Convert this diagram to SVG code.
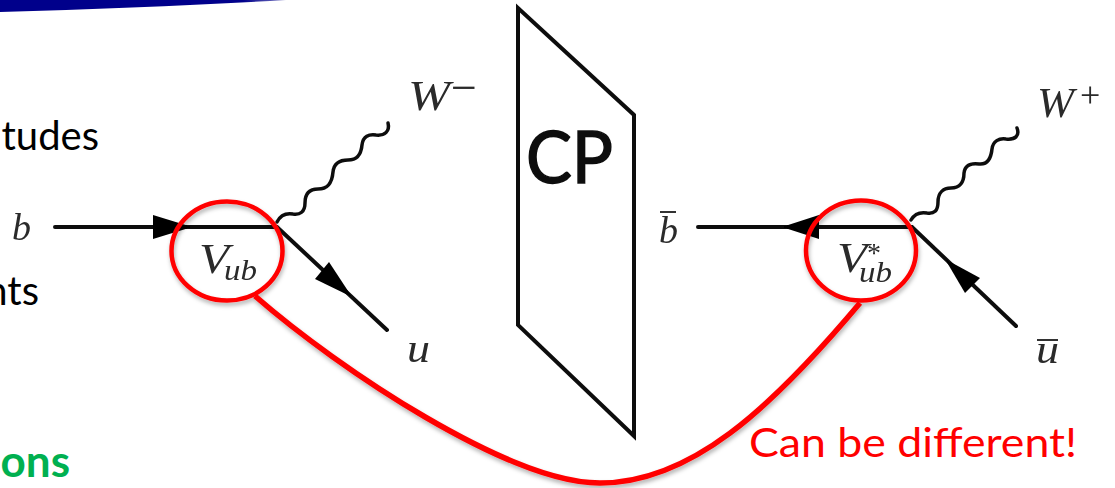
<svg xmlns="http://www.w3.org/2000/svg" width="1115" height="488" viewBox="0 0 1115 488">
<style>
.ln{fill:none;stroke:#111;stroke-width:4;stroke-linecap:round}
.wv{fill:none;stroke:#111;stroke-width:3.500;stroke-linecap:round}
.ah{fill:#000}
.ov{stroke:#333;stroke-width:2}
.m{font-family:"Liberation Serif",serif;font-style:italic;fill:#2a2a2a}
.s{font-family:"Liberation Serif",serif;fill:#2a2a2a}
.b{font-family:Lato,"Open Sans",sans-serif}
.ring{fill:none;stroke:#f00;stroke-width:4.500}
</style>
<defs>
<linearGradient id="bar" x1="0" x2="1" y1="0" y2="0"><stop offset="0" stop-color="#00008b"/><stop offset="0.85" stop-color="#00008b"/><stop offset="1" stop-color="#8080c5"/></linearGradient>
<filter id="sh" x="-10%" y="-10%" width="120%" height="125%"><feDropShadow dx="1" dy="3" stdDeviation="2" flood-color="#000" flood-opacity="0.3"/></filter>
<filter id="soft" x="-5%" y="-5%" width="110%" height="110%"><feGaussianBlur stdDeviation="0.600"/></filter>
</defs>
<rect width="1115" height="488" fill="#fff"/>
<path id="banner" d="M0 0H286C200 5 100 9 0 12Z" fill="url(#bar)"/>
<g id="body-text" class="b" font-size="40">
<text x="99" y="150" text-anchor="end" fill="#000">tudes</text>
<text x="39" y="305" text-anchor="end" fill="#000">nts</text>
<text x="70" y="477" text-anchor="end" fill="#00b050" font-weight="700" font-size="44">ons</text>
</g>
<g id="cp-plane" filter="url(#soft)">
<path d="M518 8V325L634 436V115Z" fill="none" stroke="#111" stroke-width="4"/>
<text x="526" y="183" class="b" font-size="71" fill="#111" stroke="#111" stroke-width="1.500" textLength="87" lengthAdjust="spacingAndGlyphs">CP</text>
</g>
<g id="connectors" filter="url(#soft)">
<path class="ln" d="M55 227H277L387 330"/>
<path class="ah" d="M153 215L192 227L153 239Z"/>
<path class="ah" d="M329 262L352 297L315 279Z"/>
<path class="wv" d="M277 222C281 214 287 213 293 214C300 215 305 212 305 203C305 193 310 189 318 189C328 189 332 183 333 172C334 163 340 160 348 160C357 160 361 155 362 145C363 136 369 134 376 135C385 136 390 131 388 123"/>
<path class="ln" d="M698 227H912L1016 326"/>
<path class="ah" d="M782 227L819 215L819 239Z"/>
<path class="ah" d="M945 259L980 278L965 293Z"/>
<path class="wv" d="M911 220C915 213 921 212 927 213C934 214 938 211 938 202C938 193 943 188 951 188C960 188 964 182 964 173C965 165 971 163 979 164C988 165 991 158 992 149C993 141 999 138 1006 139C1015 140 1020 136 1017 128"/>
</g>
<g id="vertex-left">
<g filter="url(#soft)">
<text class="m" x="199" y="273" font-size="42" textLength="30" lengthAdjust="spacingAndGlyphs">V</text>
<text class="m" x="224" y="280" font-size="30" textLength="33" lengthAdjust="spacingAndGlyphs">ub</text>
</g>
<ellipse class="ring" cx="227" cy="251" rx="55.500" ry="49.500" filter="url(#sh)"/>
</g>
<g id="vertex-right">
<g filter="url(#soft)">
<text class="m" x="837" y="272" font-size="42" textLength="30" lengthAdjust="spacingAndGlyphs">V</text>
<text class="s" x="867" y="262" font-size="28">*</text>
<text class="m" x="859" y="282" font-size="30" textLength="33" lengthAdjust="spacingAndGlyphs">ub</text>
</g>
<ellipse class="ring" cx="861" cy="250.500" rx="55" ry="50" filter="url(#sh)"/>
</g>
<g id="labels" filter="url(#soft)">
<text class="m" x="12" y="240" font-size="38">b</text>
<text class="m" x="408" y="110" font-size="42" textLength="42" lengthAdjust="spacingAndGlyphs">W</text>
<text class="s" x="451" y="103" font-size="46">−</text>
<text class="m" x="407" y="362" font-size="40" textLength="23" lengthAdjust="spacingAndGlyphs">u</text>
<text class="m" x="659" y="243" font-size="38">b</text>
<line class="ov" x1="660" y1="212" x2="676" y2="212"/>
<text class="m" x="1037" y="117" font-size="42" textLength="37" lengthAdjust="spacingAndGlyphs">W</text>
<text class="s" x="1080" y="107" font-size="36">+</text>
<text class="m" x="1036" y="363" font-size="40" textLength="23" lengthAdjust="spacingAndGlyphs">u</text>
<line class="ov" x1="1037" y1="340" x2="1058" y2="340"/>
</g>
<g id="red-link">
<path d="M255 296C340 370 510 483 600 483C690 483 770 410 860 303" fill="none" stroke="#f00" stroke-width="5.500" filter="url(#sh)"/>
<text class="b" x="749" y="457" font-size="41" fill="#f00" textLength="328" lengthAdjust="spacingAndGlyphs">Can be different!</text>
</g>
</svg>
